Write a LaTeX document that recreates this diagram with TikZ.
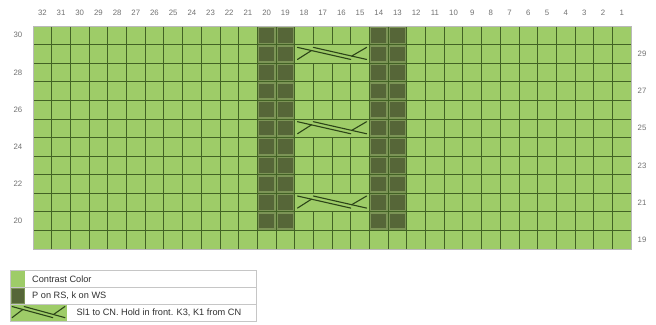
\documentclass[tikz,border=0pt]{standalone}
\usepackage{fontspec}
\setmainfont{Liberation Sans}
\usepackage{xcolor}
\usepackage{tikz}
\usetikzlibrary{positioning}

\definecolor{ccgreen}{RGB}{158,204,104}
\definecolor{purlfill}{RGB}{86,102,56}
\definecolor{purledge}{RGB}{124,148,86}
\definecolor{gridgreen}{RGB}{66,98,36}
\definecolor{cablegreen}{RGB}{44,68,24}
\definecolor{labelgray}{RGB}{112,112,112}
\definecolor{keytext}{RGB}{48,48,48}

% cable symbol in a box of 4x1 cells, top-left corner at (#1,#2)
\newcommand{\cablemark}[4]{%
  \begin{scope}[shift={(#1,#2)},xscale=#3,yscale=#4]
    \draw[cablestroke] (0.15,0.15) -- (3.0,0.8);
    \draw[cablestroke] (1.0,0.15) -- (3.85,0.8);
    \draw[cablestroke] (0.15,0.8) -- (0.9,0.32);
    \draw[cablestroke] (3.05,0.62) -- (3.85,0.15);
  \end{scope}}

\begin{document}
\begin{tikzpicture}[x=1pt,y=-1pt,
  cablestroke/.style={cablegreen,line width=1.1pt,line cap=round},
  gridrule/.style={gridgreen,line width=0.8pt},
  keyrule/.style={gray!45,line width=0.8pt},
  numlabel/.style={text=labelgray,font=\fontsize{7.8}{9}\selectfont,inner sep=0pt},
  keylabel/.style={text=keytext,font=\fontsize{9.2}{11}\selectfont,inner sep=0pt,anchor=west}]
\def\cw{18.69}
\def\ch{18.58}
\useasboundingbox (0,0) rectangle (656,324);

% chart
\fill[ccgreen] (33,26) rectangle (631,249);
\foreach \c in {20,19,14,13}{
  \foreach \r in {20,...,30}{
    \pgfmathsetmacro{\xl}{33+(32-\c)*\cw}
    \pgfmathsetmacro{\yt}{26+(30-\r)*\ch}
    \fill[purledge] (\xl,\yt) rectangle ++(\cw,\ch);
    \fill[purlfill] (\xl+2,\yt+2) rectangle ++(\cw-4,\ch-4);
  }
}
\foreach \i in {1,...,31}
  \draw[gridrule] (33+\i*\cw,26) -- ++(0,12*\ch);
\foreach \j in {1,...,11}
  \draw[gridrule] (33,26+\j*\ch) -- ++(32*\cw,0);
\draw[gray!55,line width=0.9pt] (33,26) rectangle (631,249);

% cable rows
\foreach \r in {29,25,21}{
  \pgfmathsetmacro{\yt}{26+(30-\r)*\ch}
  \fill[ccgreen] (33+14*\cw+0.6,\yt+0.6) rectangle (33+18*\cw-0.6,\yt+\ch-0.6);
  \cablemark{33+14*\cw}{\yt}{\cw}{\ch}
}

% stitch and row numbers
\foreach \n in {1,...,32}
  \node[numlabel] (col\n) at (33+32.5*\cw-\n*\cw,13) {\n};
\foreach \r in {20,22,...,30}
  \node[numlabel] (row\r) at (18,26+30.5*\ch-\r*\ch) {\r};
\foreach \r in {19,21,...,29}
  \node[numlabel] (row\r) at (642,26+30.5*\ch-\r*\ch) {\r};

% key
\fill[ccgreen] (10,270) rectangle (25,287);
\fill[purledge] (10,287) rectangle (25,304);
\fill[purlfill] (11.5,288.5) rectangle (23.5,302.5);
\fill[ccgreen] (10,304) rectangle (67,321);
\cablemark{10}{304}{14.25}{17}
\draw[keyrule] (10,270) rectangle (256,321);
\draw[keyrule] (10,287) -- (256,287);
\draw[keyrule] (10,304) -- (256,304);
\node[keylabel] (keycc) at (32,278.8) {Contrast Color};
\node[keylabel] (keypurl) at (32,295.8) {P on RS, k on WS};
\node[keylabel] (keycable) at (76.5,312.8) {Sl1 to CN. Hold in front. K3, K1 from CN};
\end{tikzpicture}
\end{document}
